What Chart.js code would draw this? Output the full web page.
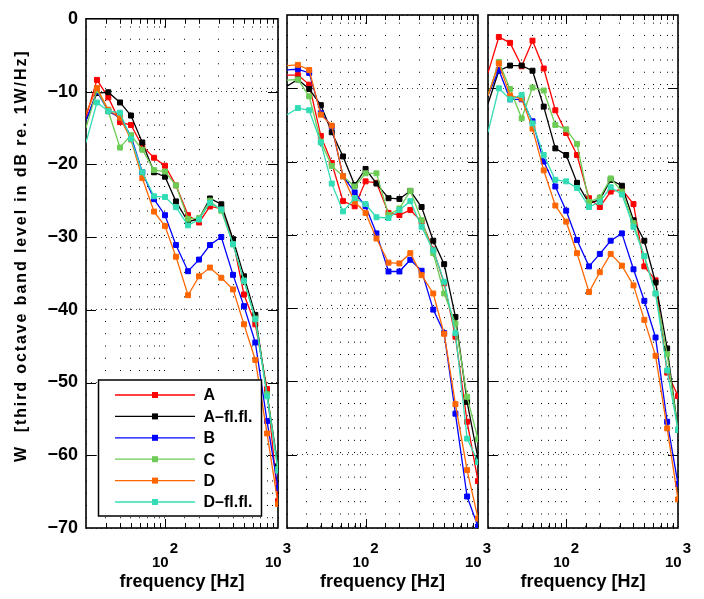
<!DOCTYPE html>
<html>
<head>
<meta charset="utf-8">
<script src="https://cdn.jsdelivr.net/npm/chart.js@4.4.0/dist/chart.umd.min.js"></script>
<style>
  html, body { margin: 0; padding: 0; background: #fff; }
  #wrap { position: relative; width: 704px; height: 599px; overflow: hidden; }
  #wrap canvas { position: absolute; top: 0; }
</style>
</head>
<body>
<div id="wrap">
  <canvas id="p1" width="300" height="599" style="left:0px"></canvas>
  <canvas id="p2" width="238" height="599" style="left:262px"></canvas>
  <canvas id="p3" width="242" height="599" style="left:462px"></canvas>
</div>
<script>
// third octave band centre frequencies [Hz]
const freqs = [20, 25, 31.5, 40, 50, 63, 80, 100, 125, 160, 200, 250, 315, 400, 500, 630, 800, 1000];

const seriesNames = ['A', 'A\u2013fl.fl.', 'B', 'C', 'D', 'D\u2013fl.fl.'];
const seriesColors = ['#ff0000', '#000000', '#0000ff', '#6ccc55', '#ff6600', '#33dcb4'];

const yTickValues = [0, -10, -20, -30, -40, -50, -60, -70];
const xLabelValues = [100, 1000];
const xLabelExponents = ['2', '3'];
const xTitle = 'frequency [Hz]';
const yTitle = 'W  [third octave band level in dB re. 1W/Hz]';

// left panel
const p1_A    = [-13.5, -8.4, -10.8, -14.2, -14.6, -17.5, -19.1, -20.2, -22.9, -27.0, -28.0, -25.8, -26.1, -30.5, -37.9, -42.0, -50.9, -66.3];
const p1_Afl  = [-14.0, -10.2, -10.1, -11.5, -13.3, -17.0, -21.1, -21.7, -25.1, -27.9, -27.5, -24.7, -25.5, -30.3, -35.4, -40.7, -51.6, -61.5];
const p1_B    = [-14.0, -10.0, -12.7, -13.6, -16.1, -21.1, -24.8, -27.0, -31.1, -34.7, -33.1, -31.1, -30.0, -35.2, -39.5, -44.5, -55.3, -64.5];
const p1_C    = [-15.0, -9.8, -12.7, -17.7, -16.0, -18.0, -20.8, -21.0, -22.9, -27.5, -27.4, -25.0, -26.4, -31.0, -36.0, -41.2, -51.6, -61.9];
const p1_D    = [-13.0, -9.5, -12.5, -13.6, -16.6, -21.9, -26.5, -28.5, -32.7, -38.0, -35.4, -34.2, -35.6, -37.2, -42.0, -46.9, -57.0, -66.7];
const p1_Dfl  = [-17.0, -11.5, -12.7, -12.9, -16.5, -21.1, -24.4, -24.5, -25.9, -28.4, -27.6, -25.3, -26.2, -31.0, -36.0, -41.3, -51.9, -62.1];

// middle panel
const p2_A    = [-8.2, -8.2, -9.5, -16.5, -20.2, -25.4, -26.1, -22.7, -22.9, -27.0, -27.3, -26.6, -28.2, -32.0, -36.6, -43.9, -55.5, -63.6];
const p2_Afl  = [-9.7, -8.8, -10.1, -12.3, -16.0, -19.3, -23.2, -21.0, -23.0, -25.0, -25.1, -24.0, -26.2, -30.8, -34.0, -41.2, -52.8, -60.5];
const p2_B    = [-7.5, -7.4, -7.9, -13.4, -15.2, -22.0, -24.2, -26.1, -29.8, -35.0, -35.0, -33.4, -34.9, -40.2, -43.4, -54.4, -65.7, -69.8];
const p2_C    = [-8.9, -8.8, -11.1, -17.3, -20.6, -22.0, -23.4, -21.6, -21.6, -27.3, -26.4, -24.0, -28.0, -32.5, -38.0, -42.1, -52.1, -57.9];
const p2_D    = [-6.9, -6.8, -7.5, -13.6, -15.1, -22.0, -25.5, -27.0, -30.5, -33.8, -33.9, -32.5, -35.5, -38.0, -43.5, -53.1, -62.1, -68.7];
const p2_Dfl  = [-13.6, -12.7, -13.0, -17.4, -23.0, -26.8, -25.0, -25.8, -27.6, -27.7, -26.6, -25.4, -28.9, -32.1, -36.4, -43.4, -57.8, -61.0];

// right panel
const p3_A    = [-7.9, -3.0, -3.8, -7.0, -3.5, -7.3, -13.0, -16.1, -19.1, -25.0, -26.2, -24.1, -23.8, -25.8, -34.3, -36.2, -48.8, -52.0];
const p3_Afl  = [-12.1, -7.6, -6.9, -6.9, -7.6, -12.5, -18.2, -19.1, -22.9, -25.7, -25.2, -22.5, -23.3, -28.0, -30.8, -36.5, -45.5, -56.6];
const p3_B    = [-11.0, -7.5, -11.5, -11.5, -14.5, -20.0, -23.4, -26.7, -30.7, -34.3, -32.6, -30.8, -29.8, -34.7, -39.0, -44.0, -55.5, -64.0];
const p3_C    = [-11.0, -6.4, -10.1, -14.1, -9.9, -10.3, -15.0, -15.6, -17.6, -25.5, -24.9, -22.3, -24.1, -28.4, -32.9, -38.0, -46.3, -56.6];
const p3_D    = [-11.0, -6.6, -11.0, -11.4, -15.5, -21.2, -26.0, -28.2, -32.5, -37.8, -35.1, -32.6, -34.2, -36.9, -41.6, -46.5, -56.4, -66.1];
const p3_Dfl  = [-16.0, -10.0, -11.5, -10.9, -14.8, -19.1, -22.5, -22.7, -23.6, -26.2, -25.5, -23.5, -24.5, -28.9, -32.9, -38.0, -48.5, -56.6];

const FONT = '"Liberation Sans", Arial, Helvetica, sans-serif';

function makeDatasets(rows) {
  return rows.map((vals, i) => ({
    label: seriesNames[i],
    data: freqs.map((f, k) => ({ x: f, y: vals[k] })),
    borderColor: seriesColors[i],
    backgroundColor: seriesColors[i],
    borderWidth: 1.3,
    pointStyle: 'rect',
    pointRadius: freqs.map((f, k) => (k === 0 ? 0 : 3.5)),
    pointBorderWidth: 1,
    pointBackgroundColor: seriesColors[i],
    tension: 0,
    order: -i
  }));
}

// box, inner ticks, x tick labels, y title and the legend, matlab style
const decorPlugin = {
  id: 'decor',
  beforeDatasetsDraw(chart, args, opts) {
    const { ctx, chartArea: a, scales: { x, y } } = chart;
    ctx.save();
    ctx.strokeStyle = '#000';
    ctx.lineWidth = 1;
    ctx.beginPath();
    x.ticks.forEach(t => {
      const px = Math.round(x.getPixelForValue(t.value)) + 0.5;
      if (px <= a.left + 1 || px >= a.right - 1) return;
      const len = xLabelValues.includes(t.value) ? 9 : 5;
      ctx.moveTo(px, a.bottom); ctx.lineTo(px, a.bottom - len);
      ctx.moveTo(px, a.top); ctx.lineTo(px, a.top + len);
    });
    y.ticks.forEach(t => {
      const py = Math.round(y.getPixelForValue(t.value)) + 0.5;
      if (py <= a.top + 1 || py >= a.bottom - 1) return;
      ctx.moveTo(a.left, py); ctx.lineTo(a.left + 10, py);
      ctx.moveTo(a.right, py); ctx.lineTo(a.right - 10, py);
    });
    ctx.stroke();
    ctx.lineWidth = 1.6;
    ctx.strokeRect(a.left, a.top, a.right - a.left, a.bottom - a.top);

    // x tick labels 10^2, 10^3
    ctx.fillStyle = '#000';
    ctx.textBaseline = 'alphabetic';
    ctx.textAlign = 'left';
    ctx.font = 'bold 15px ' + FONT;
    xLabelValues.forEach((v, i) => {
      const px = x.getPixelForValue(v);
      const w1 = ctx.measureText('10').width;
      const w2 = ctx.measureText(xLabelExponents[i]).width;
      const left = px - (w1 + w2 + 1) / 2;
      ctx.fillText('10', left, a.bottom + 39);
      ctx.fillText(xLabelExponents[i], left + w1 + 1, a.bottom + 25);
    });

    // y axis title, written upward from the bottom
    if (opts.yTitle) {
      ctx.save();
      ctx.translate(22, 462);
      ctx.rotate(-Math.PI / 2);
      ctx.font = 'bold 16px ' + FONT;
      ctx.letterSpacing = '1.9px';
      ctx.textBaseline = 'middle';
      ctx.textAlign = 'left';
      ctx.fillText(yTitle, 0, 0);
      ctx.restore();
    }
    ctx.restore();
  },
  afterDatasetsDraw(chart, args, opts) {
    if (!opts.legend) return;
    const { ctx } = chart;
    const bx = 98.5, by = 380, bw = 163, bh = 136;
    ctx.save();
    ctx.fillStyle = '#fff';
    ctx.fillRect(bx, by, bw, bh);
    ctx.strokeStyle = '#000';
    ctx.lineWidth = 1.5;
    ctx.strokeRect(bx, by, bw, bh);
    ctx.font = 'bold 16px ' + FONT;
    ctx.textBaseline = 'middle';
    ctx.textAlign = 'left';
    seriesNames.forEach((name, i) => {
      const yy = 395 + i * 21.4;
      ctx.strokeStyle = seriesColors[i];
      ctx.lineWidth = 1.3;
      ctx.beginPath();
      ctx.moveTo(115, yy); ctx.lineTo(195, yy);
      ctx.stroke();
      ctx.fillStyle = seriesColors[i];
      ctx.fillRect(152, yy - 3, 6, 6);
      ctx.fillStyle = '#000';
      ctx.fillText(name, 203.5, yy + 1);
    });
    ctx.restore();
  }
};

function makeChart(id, rows, cfg) {
  return new Chart(document.getElementById(id), {
    type: 'line',
    data: { datasets: makeDatasets(rows) },
    plugins: [decorPlugin],
    options: {
      responsive: false,
      animation: false,
      events: [],
      layout: { padding: { top: 15, right: cfg.padRight, left: 0, bottom: 0 } },
      plugins: {
        legend: { display: false },
        tooltip: { enabled: false },
        decor: { legend: cfg.main, yTitle: cfg.main }
      },
      scales: {
        x: {
          type: 'logarithmic',
          min: 20,
          max: 1000,
          afterFit: s => { s.height = 71; },
          ticks: { display: false },
          grid: { color: '#000', lineWidth: 1, drawTicks: false },
          border: { display: false, dash: [1, 11.27], dashOffset: 4.6 },
          title: {
            display: true,
            text: xTitle,
            color: '#000',
            font: { family: FONT, size: 18, weight: 'bold' },
            padding: { top: 0, bottom: 6 }
          }
        },
        y: {
          min: -70,
          max: 0,
          afterFit: s => { s.width = cfg.yWidth; },
          afterBuildTicks: s => { s.ticks = yTickValues.map(v => ({ value: v })); },
          ticks: {
            display: cfg.main,
            color: '#000',
            padding: 8,
            font: { family: FONT, size: 18, weight: 'bold' },
            callback: v => (v === 0 ? '0' : '\u2212' + Math.abs(v))
          },
          grid: { color: '#444', lineWidth: 1, drawTicks: false },
          border: { display: false, dash: [1, 4] }
        }
      }
    }
  });
}

makeChart('p1', [p1_A, p1_Afl, p1_B, p1_C, p1_D, p1_Dfl], { padRight: 22, yWidth: 86, main: true });
makeChart('p2', [p2_A, p2_Afl, p2_B, p2_C, p2_D, p2_Dfl], { padRight: 22, yWidth: 25, main: false });
makeChart('p3', [p3_A, p3_Afl, p3_B, p3_C, p3_D, p3_Dfl], { padRight: 26, yWidth: 26, main: false });
</script>
</body>
</html>
